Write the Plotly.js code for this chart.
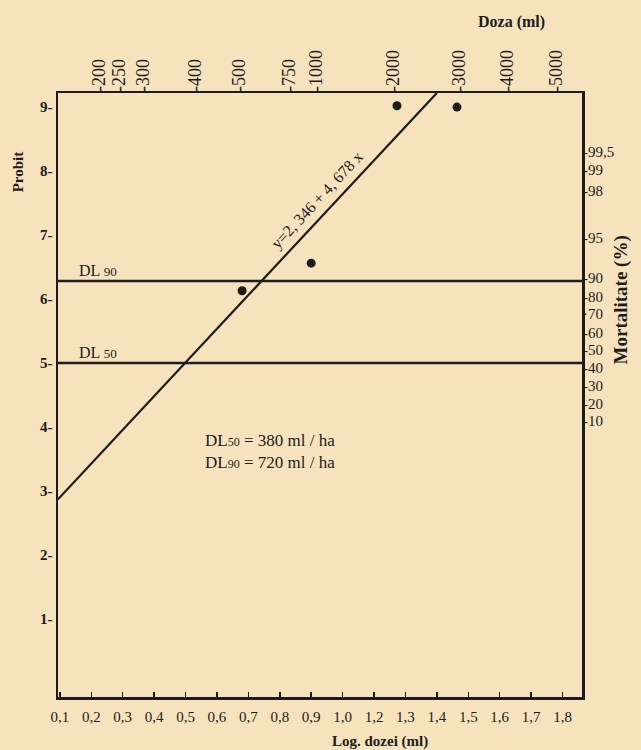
<!DOCTYPE html>
<html>
<head>
<meta charset="utf-8">
<script src="https://cdn.plot.ly/plotly-3.0.1.min.js"></script>
<style>html,body{margin:0;padding:0;background:#f6e3bd;}</style>
</head>
<body>
<div id="chart" style="width:641px;height:750px;"></div>
<script>
// Log-dose axis (bottom) tick labels, as printed (note: 1,1 missing in the original)
const logDoseLabels = ["0,1","0,2","0,3","0,4","0,5","0,6","0,7","0,8","0,9","1,0","1,2","1,3","1,4","1,5","1,6","1,7","1,8"];
const logDosePos = [0.1,0.2,0.3,0.4,0.5,0.6,0.7,0.8,0.9,1.0,1.1,1.2,1.3,1.4,1.5,1.6,1.7];

// Dose axis (top) labels and where they sit on the log-dose scale
const doseLabels = ["-200","-250","-300","-400","-500","-750","-1000","-2000","-3000","-4000","-5000"];
const dosePos = [0.225,0.29,0.365,0.53,0.67,0.83,0.915,1.16,1.37,1.525,1.68];

// Probit axis (left)
const probitVals = [1,2,3,4,5,6,7,8,9];
const probitLabels = ["1-","2-","3-","4-","5-","6-","7-","8-","9-"];

// Mortality axis (right): labels and their probit positions as drawn
const mortLabels = ["-99,5","-99","-98","-95","-90","-80","·70","-60","-50","-40","-30","-20","-10"];
const mortPos = [8.30,8.02,7.70,6.95,6.33,6.03,5.77,5.48,5.20,4.92,4.64,4.36,4.09];

// Observed points (log dose, probit)
const obsX = [0.68,0.90,1.173,1.364];
const obsY = [6.13,6.56,9.02,9.0];

// Fitted line y = 2,346 + 4,678 x, as drawn (endpoints)
const fitX = [0.094,1.30];
const fitY = [2.87,9.22];

// Lethal dose levels (probit)
const dlNames = ["DL 90","DL 50"];
const dlProbit = [6.28,5.0];

const serif = "Liberation Serif, Times New Roman, serif";
const ink = "#1c1c1c";
const bg = "#f6e3bd";

const traces = [
  {x: fitX, y: fitY, mode: "lines", line: {color: ink, width: 2.2}, hoverinfo: "skip", showlegend: false},
  {x: obsX, y: obsY, mode: "markers", marker: {color: ink, size: 9}, showlegend: false},
  {x: [dosePos[0]], y: [dlProbit[1]], xaxis: "x2", yaxis: "y2", mode: "markers",
   marker: {opacity: 0}, hoverinfo: "skip", showlegend: false}
];

const xr = [0.094, 1.762];
const yr = [-0.22, 9.22];

const shapes = dlProbit.map(v => ({
  type: "line", xref: "paper", x0: 0, x1: 1, yref: "y", y0: v, y1: v,
  line: {color: ink, width: 2.5}
}));

const annotations = [
  {text: "Probit", xref: "paper", yref: "paper", x: -0.076, y: 0.869, xanchor: "center", yanchor: "middle",
   textangle: -90, showarrow: false, font: {family: serif, size: 15, color: ink, weight: "bold"}},
  {text: "Doza (ml)", xref: "paper", yref: "paper", x: 0.866, y: 1.118, xanchor: "center", yanchor: "middle",
   showarrow: false, font: {family: serif, size: 16, color: ink, weight: "bold"}},
  {text: "Mortalitate (%)", xref: "paper", yref: "paper", x: 1.075, y: 0.657, xanchor: "center", yanchor: "middle",
   textangle: -90, showarrow: false, font: {family: serif, size: 19, color: ink, weight: "bold"}},
  {text: "Log. dozei (ml)", xref: "paper", yref: "paper", x: 0.615, y: -0.073, xanchor: "center", yanchor: "middle",
   showarrow: false, font: {family: serif, size: 15, color: ink, weight: "bold"}},
  {text: "y=2, 346 + 4, 678 x", x: 0.92, y: 7.55, textangle: -47, xanchor: "center", yanchor: "middle",
   showarrow: false, font: {family: serif, size: 16, color: ink}},
  {text: "DL<span style='font-size:12px'>50</span> = 380 ml / ha<br>DL<span style='font-size:12px'>90</span> = 720 ml / ha",
   xref: "paper", yref: "paper", x: 0.277, y: 0.406, xanchor: "left", yanchor: "middle", align: "left",
   showarrow: false, font: {family: serif, size: 17, color: ink}}
];
dlNames.forEach((n, i) => {
  annotations.push({text: n.replace(/ (\d+)/, " <span style='font-size:13px'>$1</span>"),
    xref: "paper", x: 0.036, xanchor: "left", yref: "y", y: dlProbit[i], yanchor: "bottom", yshift: 0,
    showarrow: false, font: {family: serif, size: 16, color: ink}});
});

const layout = {
  width: 641, height: 750,
  margin: {l: 58, r: 59, t: 93, b: 53},
  paper_bgcolor: bg, plot_bgcolor: bg,
  showlegend: false,
  xaxis: {range: xr, tickvals: logDosePos, ticktext: logDoseLabels,
    showgrid: false, zeroline: false, showline: true, mirror: true, linecolor: ink, linewidth: 2.5,
    ticks: "inside", ticklen: 5, tickwidth: 1.5, tickcolor: ink, ticklabelstandoff: 4,
    tickfont: {family: serif, size: 15, color: ink}},
  xaxis2: {range: xr, overlaying: "x", side: "top", anchor: "y", tickvals: dosePos, ticktext: doseLabels,
    tickangle: -90, showgrid: false, zeroline: false, showline: false, ticks: "",
    tickfont: {family: serif, size: 18, color: ink}},
  yaxis: {range: yr, tickvals: probitVals, ticktext: probitLabels,
    showgrid: false, zeroline: false, showline: true, mirror: true, linecolor: ink, linewidth: 2.5,
    ticks: "", tickfont: {family: serif, size: 15, color: ink, weight: "bold"}},
  yaxis2: {range: yr, overlaying: "y", side: "right", anchor: "x", tickvals: mortPos, ticktext: mortLabels,
    showgrid: false, zeroline: false, showline: false, ticks: "",
    tickfont: {family: serif, size: 15, color: ink}},
  shapes: shapes,
  annotations: annotations
};

Plotly.newPlot("chart", traces, layout, {displayModeBar: false, staticPlot: true});
</script>
</body>
</html>
